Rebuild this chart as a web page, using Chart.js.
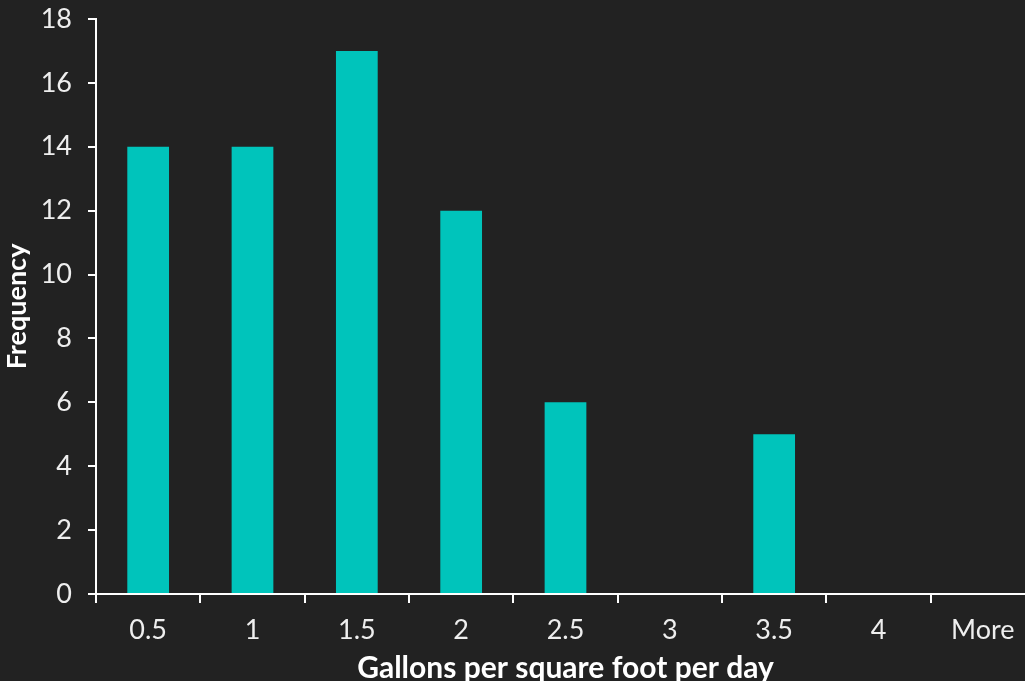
<!DOCTYPE html>
<html>
<head>
<meta charset="utf-8">
<script src="https://cdn.jsdelivr.net/npm/chart.js@4/dist/chart.umd.min.js"></script>
<style>
  html, body { margin: 0; padding: 0; background: #222222; overflow: hidden; }
  #wrap { width: 1036px; height: 681px; position: relative; }
</style>
</head>
<body>
<div id="wrap"><canvas id="chart1"></canvas></div>
<script>
const bins = ["0.5", "1", "1.5", "2", "2.5", "3", "3.5", "4", "More"];
const frequency = [14, 14, 17, 12, 6, 0, 5, 0, 0];
const yTicks = [0, 2, 4, 6, 8, 10, 12, 14, 16, 18];

const ctx = document.getElementById("chart1");
const myChart = new Chart(ctx, {
  type: "bar",
  data: {
    labels: bins,
    datasets: [
      {
        label: "Frequency",
        data: frequency,
        backgroundColor: "#00c4bb",
        barPercentage: 0.4,
        categoryPercentage: 1,
      },
    ],
  },
  options: {
    responsive: true,
    maintainAspectRatio: false,
    animation: false,
    layout: { padding: { top: 19, right: 1, left: 0, bottom: 0 } },
    plugins: {
      legend: { display: false },
      tooltip: { enabled: false },
    },
    scales: {
      x: {
        afterFit: (axis) => {
          axis.height = 87;
          axis.paddingLeft = 0;
          axis.paddingRight = 0;
        },
        grid: {
          offset: true,
          drawOnChartArea: false,
          color: "#ffffff",
          lineWidth: 2,
          tickLength: 9,
        },
        border: { color: "#ffffff", width: 2 },
        ticks: {
          color: "#eeeeee",
          font: { family: "Lato", size: 27, lineHeight: 1 },
          padding: 14,
          maxRotation: 0,
        },
        title: {
          display: true,
          text: "Gallons per square foot per day",
          color: "#ffffff",
          font: { family: "Lato", size: 30, weight: "bold", lineHeight: 0.85 },
          padding: { top: 0, bottom: 0 },
        },
      },
      y: {
        min: 0,
        max: 18,
        afterFit: (axis) => {
          axis.width = 96;
          axis.paddingTop = 0;
          axis.paddingBottom = 0;
        },
        afterBuildTicks: (axis) => {
          axis.ticks = yTicks.map((v) => ({ value: v }));
        },
        grid: {
          drawOnChartArea: false,
          color: "#ffffff",
          lineWidth: 2,
          tickLength: 8,
        },
        border: { color: "#ffffff", width: 2 },
        ticks: {
          color: "#eeeeee",
          font: { family: "Lato", size: 27, lineHeight: 1 },
          padding: 16,
        },
        title: {
          display: true,
          text: "Frequency",
          color: "#ffffff",
          font: { family: "Lato", size: 27, weight: "bold", lineHeight: 1 },
          padding: { top: 4, bottom: 0 },
        },
      },
    },
  },
});
</script>
</body>
</html>
